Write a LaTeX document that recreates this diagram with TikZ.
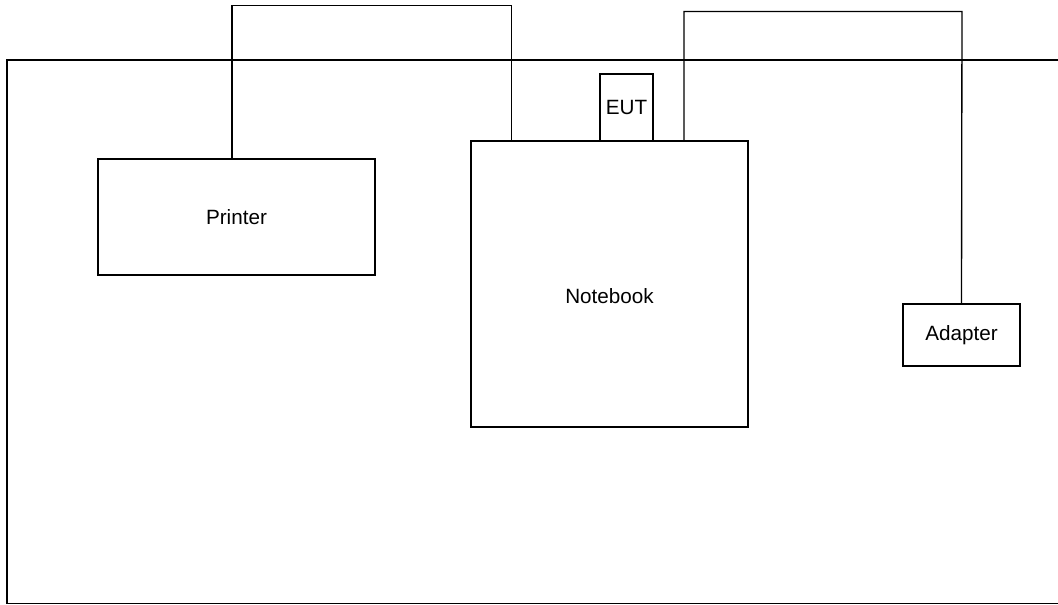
\documentclass[tikz,border=0pt]{standalone}
\usepackage{fontspec}
\setmainfont{Liberation Sans}
\usepackage{tikz}

\begin{document}
\begin{tikzpicture}[x=0.75pt,y=-0.75pt,line width=1pt,
  box/.style n args={2}{draw,rectangle,inner sep=0pt,minimum width=#1*0.75pt,minimum height=#2*0.75pt,font=\fontsize{15.5}{18}\selectfont}]
\useasboundingbox (0,0) rectangle (1058,605);
% table
\draw (1075,60) -- (7,60) -- (7,603.5) -- (1075,603.5);
% units
\node[box={277}{116}](printer) at (236.5,217) {Printer};
\node[box={277}{286},label={[font=\fontsize{15.5}{18}\selectfont,yshift=-9pt]center:Notebook}](notebook) at (609.5,284) {};
\node[box={53}{67}](eut) at (626.5,107.5) {EUT};
\node[box={117}{62}](adapter) at (961.5,335) {Adapter};
% cables
\coordinate (p1) at (232,5.5);
\coordinate (p2) at (511.5,5.5);
\coordinate (a1) at (684,11.5);
\coordinate (a2) at (962,11.5);
\draw (p1 |- printer.north) -- (p1) -- (p2) -- (p2 |- notebook.north);
\draw (a1 |- notebook.north) -- (a1) -- (a2) -- (adapter.north);
\end{tikzpicture}
\end{document}
